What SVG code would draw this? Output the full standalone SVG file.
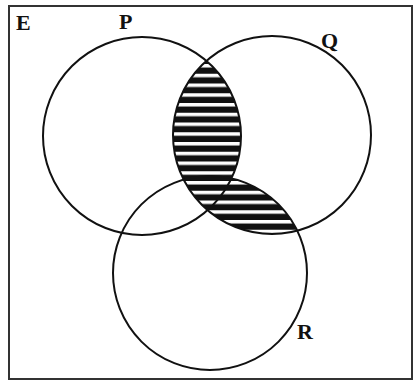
<svg xmlns="http://www.w3.org/2000/svg" width="413" height="381" viewBox="0 0 413 381">
<style>
.c{fill:none;stroke:#111;stroke-width:2}
.t{font-family:"Liberation Serif","Times New Roman",serif;font-weight:bold;font-size:22px;fill:#111}
</style>
<defs>
<pattern id="stripes" patternUnits="userSpaceOnUse" x="0" y="73.75" width="20" height="9.75">
<rect x="0" y="0" width="20" height="9.75" fill="#fff"/>
<rect x="0" y="3.5" width="20" height="6.25" fill="#111"/>
</pattern>
<clipPath id="clipP"><circle cx="142" cy="136" r="99"/></clipPath>
<clipPath id="clipR"><circle cx="210" cy="273" r="97"/></clipPath>
</defs>
<rect x="0" y="0" width="413" height="381" fill="#fff"/>
<rect id="universe" x="9" y="6" width="403" height="373" fill="none" stroke="#333" stroke-width="2"/>
<g id="shading">
<circle cx="272" cy="135" r="99" fill="url(#stripes)" clip-path="url(#clipP)"/>
<circle cx="272" cy="135" r="99" fill="url(#stripes)" clip-path="url(#clipR)"/>
</g>
<g id="P"><circle class="c" cx="142" cy="136" r="99"/><text class="t" x="119" y="29">P</text></g>
<g id="Q"><circle class="c" cx="272" cy="135" r="99"/><text class="t" x="321" y="48">Q</text></g>
<g id="R"><circle class="c" cx="210" cy="273" r="97"/><text class="t" x="297" y="339">R</text></g>
<g id="E"><text class="t" x="16" y="30">E</text></g>
</svg>
